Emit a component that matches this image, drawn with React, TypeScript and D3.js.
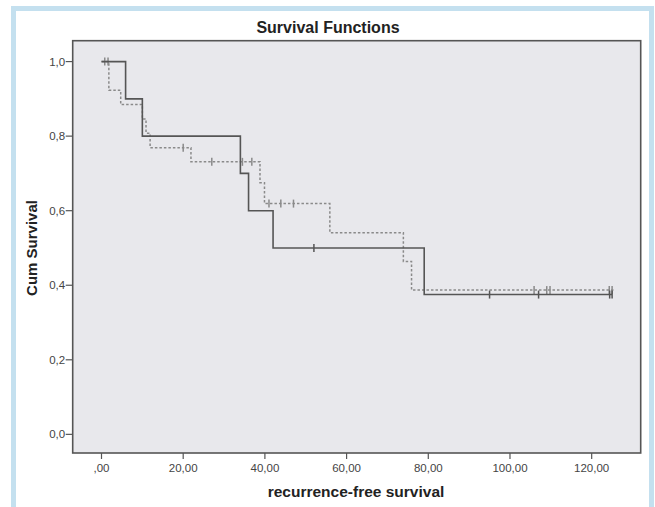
import React from "react";
import * as d3 from "d3";

const xTicks = [0, 20, 40, 60, 80, 100, 120];
const xTickLabels = [",00", "20,00", "40,00", "60,00", "80,00", "100,00", "120,00"];
const yTicks = [0, 0.2, 0.4, 0.6, 0.8, 1.0];
const yTickLabels = ["0,0", "0,2", "0,4", "0,6", "0,8", "1,0"];

// Solid group: step times and survival after each step
const solidTimes = [0, 5.9, 10, 34, 36, 42, 79, 125];
const solidSurv = [1, 0.9, 0.8, 0.7, 0.6, 0.5, 0.375, 0.375];
const solidCensorTimes = [52, 95, 107, 124.4, 125];
const solidCensorSurv = [0.5, 0.375, 0.375, 0.375, 0.375];

// Dashed group
const dashedTimes = [0, 1.8, 4.7, 10.0, 10.9, 11.9, 21.9, 38.8, 39.9, 55.9, 73.9, 75.9, 125.5];
const dashedSurv = [1, 0.923, 0.885, 0.846, 0.808, 0.769, 0.731, 0.675, 0.619, 0.541, 0.464, 0.387, 0.387];
const dashedCensorTimes = [0.8, 1.6, 20, 27, 34.5, 36.8, 41, 43.9, 47, 105.9, 109, 109.8, 124.3, 125];
const dashedCensorSurv = [1, 1, 0.769, 0.731, 0.731, 0.731, 0.619, 0.619, 0.619, 0.387, 0.387, 0.387, 0.387, 0.387];

const W = 655;
const H = 507;
const plotL = 72.7;
const plotR = 640.7;
const plotT = 40.7;
const plotB = 453;

export default function App() {
  const x = d3.scaleLinear().domain([-7.05, 132]).range([plotL, plotR]);
  const y = d3.scaleLinear().domain([-0.05, 1.056]).range([plotB, plotT]);

  const line = d3
    .line<[number, number]>()
    .x((d) => x(d[0]))
    .y((d) => y(d[1]))
    .curve(d3.curveStepAfter);

  const solidPts = solidTimes.map((t, i) => [t, solidSurv[i]] as [number, number]);
  const dashedPts = dashedTimes.map((t, i) => [t, dashedSurv[i]] as [number, number]);

  const font = "'Liberation Sans', Arial, sans-serif";
  const solidColor = "#555";
  const dashedColor = "#8a8a8a";

  return (
    <svg
      width={W}
      height={H}
      style={{ position: "absolute", left: 0, top: 0, background: "#fff" }}
      fontFamily={font}
    >
      {/* outer blue frame */}
      <rect x={13.5} y={8.5} width={638} height={530} fill="#fff" stroke="#c4e0ef" strokeWidth={5} />

      {/* title */}
      <text x={328} y={33} textAnchor="middle" fontSize={16} fontWeight="bold" fill="#222">
        Survival Functions
      </text>

      {/* plot background */}
      <rect x={plotL} y={plotT} width={plotR - plotL} height={plotB - plotT} fill="#e8e8ec" />

      {/* curves */}
      <path d={line(dashedPts) || ""} fill="none" stroke={dashedColor} strokeWidth={1.5} strokeDasharray="2.5,2" />
      {dashedCensorTimes.map((t, i) => (
        <line
          key={"dc" + i}
          x1={x(t)}
          x2={x(t)}
          y1={y(dashedCensorSurv[i]) - 4}
          y2={y(dashedCensorSurv[i]) + 4}
          stroke={dashedColor}
          strokeWidth={1.5}
        />
      ))}
      <path d={line(solidPts) || ""} fill="none" stroke={solidColor} strokeWidth={1.6} />
      {solidCensorTimes.map((t, i) => (
        <line
          key={"sc" + i}
          x1={x(t)}
          x2={x(t)}
          y1={y(solidCensorSurv[i]) - 4}
          y2={y(solidCensorSurv[i]) + 4}
          stroke={solidColor}
          strokeWidth={1.5}
        />
      ))}

      {/* plot border */}
      <rect
        x={plotL}
        y={plotT}
        width={plotR - plotL}
        height={plotB - plotT}
        fill="none"
        stroke="#555"
        strokeWidth={1.6}
      />

      {/* y axis ticks */}
      {yTicks.map((v, i) => (
        <g key={"yt" + i}>
          <line x1={plotL - 7} x2={plotL} y1={y(v)} y2={y(v)} stroke="#555" strokeWidth={1.2} />
          <text x={plotL - 7.5} y={y(v) + 4} textAnchor="end" fontSize={11.5} fill="#444">
            {yTickLabels[i]}
          </text>
        </g>
      ))}

      {/* x axis ticks */}
      {xTicks.map((v, i) => (
        <g key={"xt" + i}>
          <line x1={x(v)} x2={x(v)} y1={plotB} y2={plotB + 6} stroke="#555" strokeWidth={1.2} />
          <text x={x(v)} y={472} textAnchor="middle" fontSize={11.5} fill="#444">
            {xTickLabels[i]}
          </text>
        </g>
      ))}

      {/* axis titles */}
      <text x={356} y={497} textAnchor="middle" fontSize={15.5} fontWeight="bold" fill="#222">
        recurrence-free survival
      </text>
      <text
        transform={`translate(37,248) rotate(-90)`}
        textAnchor="middle"
        fontSize={15}
        fontWeight="bold"
        fill="#222"
      >
        Cum Survival
      </text>
    </svg>
  );
}
